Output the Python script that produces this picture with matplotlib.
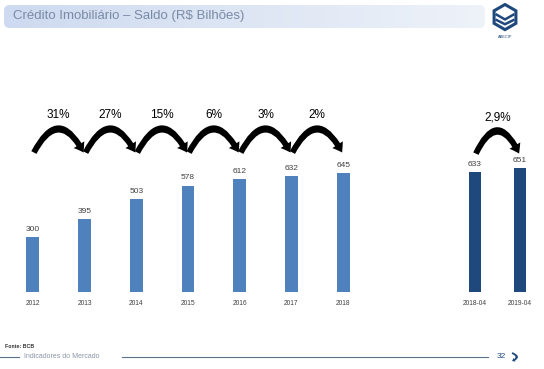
import numpy as np
import matplotlib.pyplot as plt
from matplotlib.patches import FancyArrowPatch, FancyBboxPatch, RegularPolygon

plt.rcParams['font.family'] = ['Liberation Sans', 'DejaVu Sans']

# dados
anos = ["2012", "2013", "2014", "2015", "2016", "2017", "2018"]
saldo = [300, 395, 503, 578, 612, 632, 645]
var_anual = ["31%", "27%", "15%", "6%", "3%", "2%"]
trimestres = ["2018-04", "2019-04"]
saldo_tri = [633, 651]
var_tri = "2,9%"

W, H = 544, 369
fig = plt.figure(figsize=(W / 100, H / 100), dpi=100)


def px(x0, y0, w, h):
    # caixa em pixels (origem no topo) -> fracao da figura
    return [x0 / W, 1 - (y0 + h) / H, w / W, h / H]


azul = "#4F81BD"
azul_esc = "#1F497D"
txt = "#404040"
seta = "simple,head_width=9,head_length=6.5,tail_width=4.2"

# --- barras anuais
ax = fig.add_axes(px(7, 108, 362, 184))
x = np.arange(len(anos))
ax.bar(x, saldo, width=0.25, color=azul)
ax.set_xlim(-0.5, len(anos) - 0.5)
ax.set_ylim(0, 1000)
for xi, v in zip(x, saldo):
    ax.annotate(str(v), (xi, v), xytext=(0, 3), textcoords="offset points",
                ha="center", va="bottom", fontsize=6, color=txt)
for i, p in enumerate(var_anual):
    ax.text(i + 0.5, 962, p, ha="center", va="center", fontsize=8.5, color="black")
    arr = FancyArrowPatch((i + 0.02, 758), (i + 0.98, 758),
                          connectionstyle="arc3,rad=-0.95",
                          arrowstyle=seta, color="black", lw=0, shrinkA=0, shrinkB=0)
    ax.add_patch(arr)
ax.set_xticks(x)
ax.set_xticklabels(anos, fontsize=4.8, color=txt)
ax.tick_params(axis="x", length=0, pad=6)
ax.set_yticks([])
for s in ax.spines.values():
    s.set_visible(False)
ax.patch.set_alpha(0)

# --- barras trimestrais
ax2 = fig.add_axes(px(452.5, 108, 90, 184))
x2 = np.arange(len(trimestres))
ax2.bar(x2, saldo_tri, width=0.25, color=azul_esc)
ax2.set_xlim(-0.5, 1.5)
ax2.set_ylim(0, 968)
for xi, v in zip(x2, saldo_tri):
    ax2.annotate(str(v), (xi, v), xytext=(0, 3), textcoords="offset points",
                 ha="center", va="bottom", fontsize=6, color=txt)
ax2.text(0.5, 916, var_tri, ha="center", va="center", fontsize=8.5, color="black")
ax2.add_patch(FancyArrowPatch((0.02, 728), (0.98, 728),
                              connectionstyle="arc3,rad=-1.05",
                              arrowstyle=seta, color="black", lw=0, shrinkA=0, shrinkB=0))
ax2.set_xticks(x2)
ax2.set_xticklabels(trimestres, fontsize=4.8, color=txt)
ax2.tick_params(axis="x", length=0, pad=6)
ax2.set_yticks([])
for s in ax2.spines.values():
    s.set_visible(False)
ax2.patch.set_alpha(0)

# --- faixa do titulo com degrade
axt = fig.add_axes(px(4, 5, 481, 23))
axt.set_xlim(0, 1)
axt.set_ylim(0, 1)
axt.axis("off")
grad = np.linspace(0, 1, 256).reshape(1, -1)
cmap = plt.matplotlib.colors.LinearSegmentedColormap.from_list("t", ["#cddaef", "#eef2f9"])
im = axt.imshow(grad, extent=[0, 1, 0, 1], aspect="auto", cmap=cmap)
caixa = FancyBboxPatch((0.0, 0.0), 1.0, 1.0, boxstyle="round,pad=0,rounding_size=0.012",
                       transform=axt.transAxes, fc="none", ec="none", mutation_aspect=20)
axt.add_patch(caixa)
im.set_clip_path(caixa)
axt.text(0.018, 0.5, "Crédito Imobiliário – Saldo (R$ Bilhões)", va="center", ha="left",
         fontsize=9.5, color="#7a8aa6")

# --- logo
axl = fig.add_axes(px(490, 3, 30, 38))
axl.set_xlim(0, 1)
axl.set_ylim(0, 1.27)
axl.axis("off")
axl.add_patch(RegularPolygon((0.5, 0.8), 6, radius=0.42, fc="none", ec="#1F497D", lw=2.2))
axl.plot([0.22, 0.5, 0.78], [0.88, 0.72, 0.88], color="#1F497D", lw=1.8)
axl.plot([0.22, 0.5, 0.78], [0.7, 0.56, 0.7], color="#1F497D", lw=1.8)
axl.text(0.5, 0.12, "ABECIP", ha="center", va="center", fontsize=2.8, color="#1F497D")

# --- rodape
fig.text(5 / W, 1 - 346 / H, "Fonte: BCB", fontsize=3.8, fontweight="bold", color="#333333", va="center")
fig.add_artist(plt.Line2D([0 / W, 19 / W], [1 - 357 / H] * 2, color="#5a7089", lw=0.8))
fig.add_artist(plt.Line2D([122 / W, 488 / W], [1 - 357 / H] * 2, color="#5a7089", lw=0.8))
fig.text(24 / W, 1 - 357 / H, "Indicadores do Mercado", fontsize=5, color="#8a96a8", va="center")
fig.text(497 / W, 1 - 357 / H, "32", fontsize=6, color="#1F497D", va="center")
fig.add_artist(FancyArrowPatch((512 / W, 1 - 353 / H), (512 / W, 1 - 361 / H),
                               transform=fig.transFigure, connectionstyle="arc3,rad=-1.2",
                               arrowstyle="simple,head_width=3,head_length=2,tail_width=1.3",
                               color="#1F497D", lw=0, shrinkA=0, shrinkB=0))

fig.savefig("out.png", dpi=100)
